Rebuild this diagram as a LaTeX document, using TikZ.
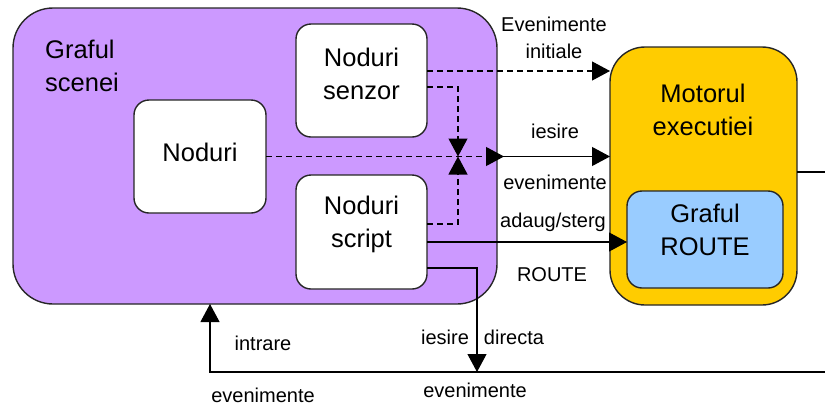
\documentclass[tikz,border=0pt]{standalone}
\usepackage{fontspec}
\setmainfont{Liberation Sans}
\usetikzlibrary{arrows.meta,calc}
\definecolor{purp}{HTML}{CC99FF}
\definecolor{yel}{HTML}{FFCC00}
\definecolor{lblue}{HTML}{99CCFF}
\begin{document}
\begin{tikzpicture}[x=1pt,y=-1pt,
 big/.style={font=\fontsize{25.5}{33}\selectfont, align=center, inner sep=0pt},
 small/.style={font=\fontsize{20}{27}\selectfont, align=center, inner sep=0pt},
 box/.style={draw=black!85, line width=1.4pt, rounded corners=#1, outer sep=0pt, inner sep=0pt},
 tri/.style={-{Triangle[length=18pt,width=19pt]}},
 dsh/.style={dash pattern=on 6pt off 4pt, line width=1.1pt},
 ln/.style={line width=1.1pt}]
\useasboundingbox (0,0) rectangle (825,405);

% boxes
\node[box=40pt, fill=purp, minimum width=484pt, minimum height=296pt] (gs) at (255,156) {};
\node[box=15pt, fill=white, minimum width=132pt, minimum height=113pt] (nd) at (200,156.5) {};
\node[box=15pt, fill=white, minimum width=131pt, minimum height=113pt] (ns) at (361.5,80.5) {};
\node[box=15pt, fill=white, minimum width=131pt, minimum height=114pt] (sc) at (361.5,232) {};
\node[box=35pt, fill=yel, minimum width=187pt, minimum height=258pt] (me) at (703.5,176) {};
\node[box=15pt, fill=lblue, minimum width=156pt, minimum height=97pt] (gr) at (705,239.5) {};

% box texts
\node[big, anchor=west, align=left] (tgs) at (45,66) {Graful\\scenei};
\node[big] (tnd) at (200,152) {Noduri};
\node[big] (tns) at (361.5,74) {Noduri\\senzor};
\node[big] (tsc) at (361.5,224) {Noduri\\script};
\node[big] (tme) at (703,110) {Motorul\\executiei};
\node[big] (tgr) at (705,230) {Graful\\ROUTE};

% named points
\coordinate (a1) at ($(ns.north east)+(0,47)$);
\coordinate (a2) at ($(ns.north east)+(0,63)$);
\coordinate (a3) at ($(sc.north east)+(0,49)$);
\coordinate (a4) at ($(sc.north east)+(0,67)$);
\coordinate (a5) at ($(sc.north east)+(0,93)$);
\coordinate (m) at (458,156.5);
\coordinate (b1) at (477,372);
\coordinate (b0) at (210,372);
\coordinate (r1) at (825,172);
\coordinate (r2) at (825,372);
\coordinate (e1) at ($(me.north east)+(0,125)$);

% connectors
\draw[dsh,tri] (a1) -- (a1 -| me.west);
\draw[dsh,tri] (a2) -| (m);
\draw[dsh,tri] (a3) -| (m);
\draw[dsh,tri,shorten >=-7pt] (nd.east) -- (nd.east -| gs.east);
\draw[ln,tri] (nd.east -| gs.east) -- (nd.east -| me.west);
\draw[ln,tri] (a4) -- (a4 -| gr.west);
\draw[ln,tri] (a5) -| (b1);
\draw[ln] (e1) -- (r1);
\draw[ln,tri] (r2) -- (b0) -- (b0 |- gs.south);

% labels
\node[small] (l1) at (554,38) {Evenimente\\initiale};
\node[small] (l2) at (555,131) {iesire};
\node[small] (l3) at (555,182) {evenimente};
\node[small] (l4) at (553,222) {adaug/sterg};
\node[small] (l5) at (552,275) {ROUTE};
\node[small] (l6) at (445,337) {iesire};
\node[small] (l7) at (514,337) {directa};
\node[small] (l8) at (475,390) {evenimente};
\node[small] (l9) at (263,343) {intrare};
\node[small] (l10) at (263,395) {evenimente};
\end{tikzpicture}
\end{document}
